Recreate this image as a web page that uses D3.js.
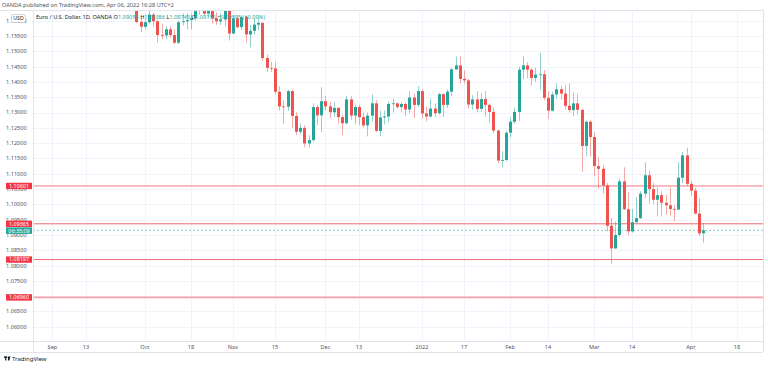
<!DOCTYPE html>
<html><head><meta charset="utf-8">
<script src="https://cdn.jsdelivr.net/npm/d3@7"></script>
<style>
body{margin:0;background:#fff}
svg{display:block}
text{font-family:"Noto Sans",Roboto,sans-serif}
</style>
</head><body>
<svg id="c" width="768" height="368"></svg>
<script>
// ---------------- DATA ----------------
const dates = [
"2021-09-29","2021-09-30",
"2021-10-01","2021-10-04","2021-10-05","2021-10-06","2021-10-07","2021-10-08","2021-10-11","2021-10-12","2021-10-13","2021-10-14","2021-10-15","2021-10-18","2021-10-19","2021-10-20","2021-10-21","2021-10-22","2021-10-25","2021-10-26","2021-10-27","2021-10-28","2021-10-29",
"2021-11-01","2021-11-02","2021-11-03","2021-11-04","2021-11-05","2021-11-08","2021-11-09","2021-11-10","2021-11-11","2021-11-12","2021-11-15","2021-11-16","2021-11-17","2021-11-18","2021-11-19","2021-11-22","2021-11-23","2021-11-24","2021-11-25","2021-11-26","2021-11-29","2021-11-30",
"2021-12-01","2021-12-02","2021-12-03","2021-12-06","2021-12-07","2021-12-08","2021-12-09","2021-12-10","2021-12-13","2021-12-14","2021-12-15","2021-12-16","2021-12-17","2021-12-20","2021-12-21","2021-12-22","2021-12-23","2021-12-24","2021-12-27","2021-12-28","2021-12-29","2021-12-30","2021-12-31",
"2022-01-03","2022-01-04","2022-01-05","2022-01-06","2022-01-07","2022-01-10","2022-01-11","2022-01-12","2022-01-13","2022-01-14","2022-01-17","2022-01-18","2022-01-19","2022-01-20","2022-01-21","2022-01-24","2022-01-25","2022-01-26","2022-01-27","2022-01-28","2022-01-31",
"2022-02-01","2022-02-02","2022-02-03","2022-02-04","2022-02-07","2022-02-08","2022-02-09","2022-02-10","2022-02-11","2022-02-14","2022-02-15","2022-02-16","2022-02-17","2022-02-18","2022-02-21","2022-02-22","2022-02-23","2022-02-24","2022-02-25","2022-02-28",
"2022-03-01","2022-03-02","2022-03-03","2022-03-04","2022-03-07","2022-03-08","2022-03-09","2022-03-10","2022-03-11","2022-03-14","2022-03-15","2022-03-16","2022-03-17","2022-03-18","2022-03-21","2022-03-22","2022-03-23","2022-03-24","2022-03-25","2022-03-28","2022-03-29","2022-03-30","2022-03-31",
"2022-04-01","2022-04-04","2022-04-05","2022-04-06"];

const open = [
1.1683,1.1596,
1.1580,1.1595,1.1620,1.1598,1.1553,1.1552,1.1572,1.1553,1.1528,1.1595,1.1598,1.1602,1.1608,1.1650,1.1654,1.1623,1.1643,1.1608,1.1598,1.1604,1.1682,
1.1558,1.1607,1.1579,1.1612,1.1555,1.1567,1.1587,1.1593,1.1478,1.1446,1.1444,1.1368,1.1320,1.1319,1.1370,1.1289,1.1237,1.1250,1.1199,1.1210,1.1318,1.1291,
1.1337,1.1320,1.1301,1.1315,1.1285,1.1265,1.1343,1.1290,1.1318,1.1285,1.1258,1.1290,1.1330,1.1240,1.1284,1.1287,1.1328,1.1330,1.1318,1.1328,1.1310,1.1349,1.1325,
1.1370,1.1297,1.1287,1.1313,1.1298,1.1360,1.1325,1.1368,1.1441,1.1454,1.1410,1.1405,1.1326,1.1343,1.1312,1.1344,1.1325,1.1302,1.1241,1.1143,1.1145,
1.1234,1.1270,1.1302,1.1440,1.1454,1.1440,1.1413,1.1424,1.1425,1.1348,1.1306,1.1359,1.1376,1.1362,1.1322,1.1308,1.1330,1.1309,1.1191,1.1270,
1.1220,1.1125,1.1116,1.1062,1.0930,1.0856,1.0900,1.1075,1.0984,1.0912,1.0942,1.0955,1.1035,1.1095,1.1050,1.1015,1.1030,1.1005,1.0997,1.0985,1.0983,1.1087,1.1160,
1.1067,1.1045,1.0970,1.09055];

const high = [
1.1685,1.1610,
1.1608,1.1640,1.1626,1.1603,1.1590,1.1583,1.1584,1.1572,1.1600,1.1624,1.1624,1.1623,1.1668,1.1667,1.1667,1.1665,1.1646,1.1627,1.1624,1.1692,1.1692,
1.1616,1.1617,1.1616,1.1616,1.1586,1.1609,1.1608,1.1595,1.1490,1.1465,1.1465,1.1386,1.1340,1.1374,1.1374,1.1300,1.1264,1.1258,1.1226,1.1330,1.1325,1.1383,
1.1353,1.1335,1.1333,1.1318,1.1293,1.1354,1.1355,1.1326,1.1325,1.1300,1.1300,1.1360,1.1340,1.1306,1.1306,1.1335,1.1345,1.1333,1.1334,1.1333,1.1369,1.1362,1.1386,
1.1376,1.1319,1.1346,1.1330,1.1364,1.1363,1.1375,1.1446,1.1483,1.1483,1.1437,1.1410,1.1357,1.1370,1.1363,1.1370,1.1330,1.1316,1.1244,1.1174,1.1242,
1.1284,1.1316,1.1449,1.1483,1.1464,1.1446,1.1447,1.1495,1.1439,1.1369,1.1368,1.1395,1.1386,1.1390,1.1395,1.1365,1.1361,1.1312,1.1273,1.1277,
1.1236,1.1153,1.1128,1.1070,1.0955,1.0943,1.1083,1.1121,1.1040,1.0985,1.1023,1.1043,1.1137,1.1110,1.1070,1.1055,1.1043,1.1031,1.1055,1.0998,1.1138,1.1171,1.1185,
1.1076,1.1054,1.1020,1.09386];

const low = [
1.1592,1.1563,
1.1572,1.1590,1.1580,1.1529,1.1540,1.1540,1.1545,1.1524,1.1524,1.1585,1.1571,1.1572,1.1599,1.1620,1.1618,1.1610,1.1590,1.1587,1.1586,1.1582,1.1535,
1.1557,1.1575,1.1570,1.1529,1.1513,1.1555,1.1570,1.1469,1.1433,1.1432,1.1360,1.1307,1.1264,1.1306,1.1250,1.1226,1.1228,1.1186,1.1185,1.1205,1.1259,1.1235,
1.1307,1.1282,1.1286,1.1264,1.1227,1.1262,1.1277,1.1262,1.1259,1.1251,1.1222,1.1272,1.1236,1.1222,1.1261,1.1270,1.1300,1.1312,1.1301,1.1288,1.1298,1.1282,1.1318,
1.1280,1.1272,1.1284,1.1285,1.1293,1.1286,1.1315,1.1353,1.1439,1.1396,1.1395,1.1314,1.1310,1.1300,1.1302,1.1287,1.1265,1.1234,1.1135,1.1121,1.1141,
1.1218,1.1263,1.1273,1.1409,1.1412,1.1388,1.1401,1.1374,1.1340,1.1280,1.1303,1.1345,1.1342,1.1310,1.1300,1.1289,1.1295,1.1106,1.1158,1.1156,
1.1091,1.1052,1.1035,1.0912,1.0806,1.0854,1.0894,1.0982,1.0900,1.0908,1.0939,1.0952,1.1022,1.1003,1.1001,1.0962,1.0960,1.0967,1.0964,1.0945,1.0983,1.1070,1.1060,
1.1028,1.0967,1.0897,1.08745];

const close = [
1.1596,1.1580,
1.1595,1.1620,1.1598,1.1553,1.1552,1.1572,1.1553,1.1528,1.1595,1.1598,1.1602,1.1608,1.1650,1.1654,1.1623,1.1643,1.1608,1.1598,1.1604,1.1682,1.1558,
1.1607,1.1579,1.1612,1.1555,1.1567,1.1587,1.1593,1.1478,1.1446,1.1444,1.1368,1.1320,1.1319,1.1370,1.1289,1.1237,1.1250,1.1199,1.1210,1.1318,1.1291,1.1337,
1.1320,1.1301,1.1315,1.1285,1.1265,1.1343,1.1290,1.1318,1.1285,1.1258,1.1290,1.1330,1.1240,1.1284,1.1287,1.1328,1.1330,1.1318,1.1328,1.1310,1.1349,1.1325,1.1370,
1.1297,1.1287,1.1313,1.1298,1.1360,1.1325,1.1368,1.1441,1.1454,1.1410,1.1405,1.1326,1.1343,1.1312,1.1344,1.1325,1.1302,1.1241,1.1143,1.1145,1.1234,
1.1270,1.1302,1.1440,1.1454,1.1440,1.1413,1.1424,1.1425,1.1348,1.1306,1.1359,1.1376,1.1362,1.1322,1.1308,1.1330,1.1309,1.1191,1.1270,1.1220,
1.1125,1.1116,1.1062,1.0930,1.0856,1.0900,1.1075,1.0984,1.0912,1.0942,1.0955,1.1035,1.1095,1.1050,1.1015,1.1030,1.1005,1.0997,1.0985,1.0983,1.1087,1.1160,1.1067,
1.1045,1.0970,1.0905,1.0915];

const yTicks = [1.06,1.065,1.07,1.075,1.08,1.085,1.09,1.095,1.10,1.105,1.11,1.115,1.12,1.125,1.13,1.135,1.14,1.145,1.15,1.155,1.16];
const xTickDates  = ["2021-09-01","2021-09-13","2021-10-01","2021-10-18","2021-11-01","2021-11-15","2021-12-01","2021-12-13","2022-01-03","2022-01-17","2022-02-01","2022-02-14","2022-03-01","2022-03-14","2022-04-01","2022-04-18"];
const xTickLabels = ["Sep","13","Oct","18","Nov","15","Dec","13","2022","17","Feb","14","Mar","14","Apr","18"];
const levels      = [1.10601,1.09365,1.08197,1.06960];
const levelLabels = ["1.10601","1.09365","1.08197","1.06960"];
const lastPrice = 1.0915;
const countdown = "06:35:09";
const headerTop = "OANDA published on TradingView.com, Apr 06, 2022 16:28 UTC+2";
const symbolTitle = "Euro / U.S. Dollar, 1D, OANDA";
const ohlcLegend = [["O","1.09055"],["H","1.09386"],["L","1.08745"],["C","1.09150"]];
const changeText = "+0.00095 (+0.09%)";

// ---------------- LAYOUT ----------------
const W = 768, H = 368;
const plot = {l: 33, r: 763, t: 10, b: 341};
const UP = "#26a69a", DOWN = "#ef5350";
const svg = d3.select("#c");

// trading-day calendar (weekdays) for x positions
const parse = d3.timeParse("%Y-%m-%d");
const fmt = d3.timeFormat("%Y-%m-%d");
const days = d3.timeDay.range(new Date(2021,7,20), new Date(2022,4,6)).filter(d => d.getDay() !== 0 && d.getDay() !== 6);
const dayIndex = new Map(days.map((d,i) => [fmt(d), i]));
const x = d3.scaleLinear()
  .domain([dayIndex.get("2021-09-13"), dayIndex.get("2022-04-18")])
  .range([86, 737]);
const xd = s => x(dayIndex.get(s));
const y = d3.scaleLinear().domain([1.06, 1.16]).range([326.8, 20.7]);

svg.append("rect").attr("width",W).attr("height",H).attr("fill","#fff");

// frame
const frame = svg.append("g").attr("stroke","#e0e3eb").attr("fill","none").attr("stroke-width",1);
frame.append("line").attr("x1",0).attr("x2",plot.r).attr("y1",plot.t+0.5).attr("y2",plot.t+0.5);
frame.append("line").attr("x1",plot.l+0.5).attr("x2",plot.l+0.5).attr("y1",plot.t).attr("y2",352);
frame.append("line").attr("x1",plot.r+0.5).attr("x2",plot.r+0.5).attr("y1",plot.t).attr("y2",352);
frame.append("line").attr("x1",0).attr("x2",plot.r).attr("y1",plot.b+0.5).attr("y2",plot.b+0.5);
frame.append("line").attr("x1",0).attr("x2",plot.r).attr("y1",352.5).attr("y2",352.5);

// clip
svg.append("clipPath").attr("id","pc").append("rect")
  .attr("x",plot.l+1).attr("y",plot.t+1).attr("width",plot.r-plot.l-1).attr("height",plot.b-plot.t-1);

// grid
const grid = svg.append("g").attr("clip-path","url(#pc)").attr("stroke","#f0f3fa").attr("stroke-width",1);
grid.selectAll(".gh").data(yTicks).join("line")
  .attr("x1",plot.l).attr("x2",plot.r)
  .attr("y1",d=>Math.round(y(d))+0.5).attr("y2",d=>Math.round(y(d))+0.5);
grid.selectAll(".gv").data(xTickDates).join("line")
  .attr("y1",plot.t).attr("y2",plot.b)
  .attr("x1",d=>Math.round(xd(d))+0.5).attr("x2",d=>Math.round(xd(d))+0.5);

// y-axis labels
svg.append("g").selectAll("text").data(yTicks).join("text")
  .attr("x",6).attr("y",d=>y(d)).attr("dy","0.35em")
  .attr("font-size",5.6).attr("fill","#50535e").text(d=>d.toFixed(5));

// x-axis labels
svg.append("g").selectAll("text").data(xTickDates).join("text")
  .attr("x",d=>xd(d)).attr("y",347).attr("dy","0.35em").attr("text-anchor","middle")
  .attr("font-size",5.6).attr("fill","#50535e").text((d,i)=>xTickLabels[i]);

// level lines
const lv = svg.append("g").attr("clip-path","url(#pc)");
lv.selectAll("line").data(levels).join("line")
  .attr("x1",plot.l).attr("x2",plot.r)
  .attr("y1",d=>y(d)).attr("y2",d=>y(d))
  .attr("stroke",(d,i)=> (i===0||i===3) ? "#f6a4aa" : "#ee6b74")
  .attr("stroke-width",(d,i)=> (i===0||i===3) ? 1.6 : 1);

// last price dashed line
lv.append("line").attr("x1",plot.l).attr("x2",plot.r)
  .attr("y1",y(lastPrice)).attr("y2",y(lastPrice))
  .attr("stroke",UP).attr("stroke-opacity",0.55).attr("stroke-dasharray","2,2").attr("stroke-width",1);

// candles
const data = dates.map((d,i)=>({d, o:open[i], h:high[i], l:low[i], c:close[i]}));
const cg = svg.append("g").attr("clip-path","url(#pc)");
cg.selectAll(".w").data(data).join("line")
  .attr("x1",d=>Math.round(xd(d.d))+0.5).attr("x2",d=>Math.round(xd(d.d))+0.5)
  .attr("y1",d=>y(d.h)).attr("y2",d=>y(d.l))
  .attr("stroke",d=>d.c>=d.o?UP:DOWN).attr("stroke-opacity",0.5).attr("stroke-width",1);
cg.selectAll(".b").data(data).join("rect")
  .attr("x",d=>Math.round(xd(d.d))-1).attr("width",3)
  .attr("y",d=>y(Math.max(d.o,d.c)))
  .attr("height",d=>Math.max(0.8, Math.abs(y(d.o)-y(d.c))))
  .attr("fill",d=>d.c>=d.o?UP:DOWN);

// price labels on axis
svg.append("rect").attr("x",6).attr("y",y(lastPrice)-3).attr("width",26).attr("height",6.5).attr("fill",UP);
svg.append("text").attr("x",19).attr("y",y(lastPrice)+0.3).attr("dy","0.35em").attr("text-anchor","middle")
  .attr("font-size",5.4).attr("fill","#fff").text(countdown);
const lg = svg.append("g");
lg.selectAll("rect").data(levels).join("rect")
  .attr("x",6).attr("y",d=>y(d)-3.2).attr("width",26).attr("height",6.4).attr("fill","#f23645");
lg.selectAll("text").data(levels).join("text")
  .attr("x",19).attr("y",d=>y(d)).attr("dy","0.35em").attr("text-anchor","middle")
  .attr("font-size",5.4).attr("fill","#fff").text((d,i)=>levelLabels[i]);

// header
svg.append("text").attr("x",2).attr("y",5).attr("dy","0.35em").attr("font-size",5.6).attr("fill","#50535e").text(headerTop);
const leg = svg.append("text").attr("x",36).attr("y",17).attr("dy","0.35em").attr("font-size",5.6);
leg.append("tspan").attr("fill","#131722").text(symbolTitle + "  ");
ohlcLegend.forEach(([k,v])=>{
  leg.append("tspan").attr("fill","#131722").text(k);
  leg.append("tspan").attr("fill",UP).text(v + "  ");
});
leg.append("tspan").attr("fill",UP).text(changeText);

// USD badge
svg.append("rect").attr("x",11.5).attr("y",14.5).attr("width",14).attr("height",8).attr("rx",2)
  .attr("fill","#fff").attr("stroke","#b2b5be").attr("stroke-width",0.6);
svg.append("text").attr("x",18.5).attr("y",18.6).attr("dy","0.35em").attr("text-anchor","middle")
  .attr("font-size",5.2).attr("fill","#131722").text("USD");

// TradingView logo
const logo = svg.append("g").attr("fill","#131722");
logo.append("rect").attr("x",4).attr("y",356.5).attr("width",3.2).attr("height",1.4);
logo.append("rect").attr("x",5.2).attr("y",356.5).attr("width",1.2).attr("height",4);
logo.append("path").attr("d","M8 356.5 L10.5 356.5 L9.2 360.5 L8 360.5 Z");
svg.append("text").attr("x",12).attr("y",358.6).attr("dy","0.35em").attr("font-size",6).attr("fill","#131722").text("TradingView");
</script>
</body></html>
